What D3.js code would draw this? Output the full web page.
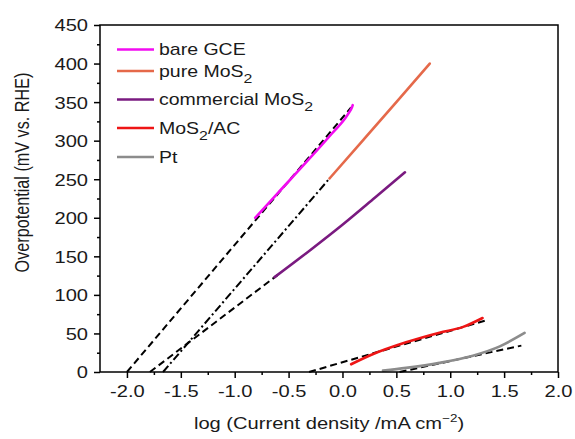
<!DOCTYPE html>
<html>
<head>
<meta charset="utf-8">
<script src="https://cdn.jsdelivr.net/npm/d3@7"></script>
<style>
  body { margin: 0; background: #fff; }
  svg { display: block; font-family: "Liberation Sans", Arial, sans-serif; }
  .axis path, .axis line { stroke: #000; stroke-width: 1.5; }
</style>
</head>
<body>
<svg width="575" height="439"></svg>
<script>
// tafel data: [log j, overpotential mV]
const bareGCE = [[-0.81, 200], [-0.6, 232], [-0.33, 273], [-0.1, 309], [0.05, 334], [0.09, 344], [0.095, 346]]
const pureMoS2 = [[-0.12, 251], [0.2, 302], [0.5, 350], [0.81, 400]]
const commercialMoS2 = [[-0.63, 123], [-0.3, 158], [0, 191], [0.3, 226], [0.58, 259]]
const mos2AC = [[0.08, 10], [0.28, 23], [0.59, 38.5], [0.9, 51], [1.12, 58.5], [1.3, 70]]
const pt = [[0.376, 1.8], [0.59, 5.3], [0.9, 11.8], [1.21, 21.2], [1.46, 33.3], [1.69, 50.6]]

// linear tafel fits (end points)
const fitGCE = [[-2.0, 0], [0.08, 343]]
const fitPure = [[-1.665, 0], [-0.12, 251]]
const fitCommercial = [[-1.787, 0], [-0.6, 126]]
const fitAC = [[-0.31, 0], [1.32, 66.5]]
const fitPt = [[0.53, 0], [1.66, 34.2]]

const xTicks = [-2.0, -1.5, -1.0, -0.5, 0.0, 0.5, 1.0, 1.5, 2.0]
const yTicks = [0, 50, 100, 150, 200, 250, 300, 350, 400, 450]

const series = [
  { name: ["bare GCE"], data: bareGCE, color: "#f20cf0" },
  { name: ["pure MoS", "2"], data: pureMoS2, color: "#e5694a" },
  { name: ["commercial MoS", "2"], data: commercialMoS2, color: "#7a1a80" },
  { name: ["MoS", "2", "/AC"], data: mos2AC, color: "#ee1515" },
  { name: ["Pt"], data: pt, color: "#8c8c8c" },
]

const fits = [
  { data: fitGCE, dash: "7,4" },
  { data: fitPure, dash: "8,3,2,3" },
  { data: fitCommercial, dash: "7,4" },
  { data: fitAC, dash: "7,4" },
  { data: fitPt, dash: "7,4" },
]

const margin = { top: 25, right: 17, bottom: 67, left: 100 }
const W = 575, H = 439
const stretch = 1.22 // the original picture is wider than tall

const svg = d3.select("svg")
const x = d3.scaleLinear().domain([-2.25, 2.0]).range([margin.left, W - margin.right])
const y = d3.scaleLinear().domain([0, 450]).range([H - margin.bottom, margin.top])

const line = d3.line().x(d => x(d[0])).y(d => y(d[1]))
const smooth = d3.line().x(d => x(d[0])).y(d => y(d[1])).curve(d3.curveMonotoneX)

// fits under data
svg.append("g").selectAll("path")
  .data(fits)
  .join("path")
  .attr("d", d => line(d.data))
  .attr("fill", "none")
  .attr("stroke", "#000")
  .attr("stroke-width", 2)
  .attr("stroke-dasharray", d => d.dash)

svg.append("g").selectAll("path")
  .data(series)
  .join("path")
  .attr("d", d => smooth(d.data))
  .attr("fill", "none")
  .attr("stroke", d => d.color)
  .attr("stroke-width", 2.6)
  .attr("stroke-linecap", "round")

// frame
svg.append("rect")
  .attr("x", x(-2.25)).attr("y", y(450))
  .attr("width", x(2.0) - x(-2.25)).attr("height", y(0) - y(450))
  .attr("fill", "none").attr("stroke", "#000").attr("stroke-width", 1.5)

// axes
const xMinor = d3.range(-1.75, 2.0, 0.5)
const yMinor = d3.range(25, 450, 50)

const gx = svg.append("g").attr("class", "axis")
  .attr("transform", `translate(0,${y(0)})`)
  .call(d3.axisBottom(x).tickValues(xTicks).tickSize(6))
gx.select(".domain").remove()
gx.selectAll("text")
  .attr("y", 13)
  .attr("transform", `scale(${stretch},1)`)
  .style("font-size", "16.5px")
  .style("font-family", "Liberation Sans, Arial, sans-serif")
  .attr("fill", "#1a1a1a")
  .text(d => d3.format(".1f")(d).replace("−", "-"))

svg.append("g").attr("class", "axis")
  .attr("transform", `translate(0,${y(0)})`)
  .call(d3.axisBottom(x).tickValues(xMinor).tickSize(3).tickFormat(""))
  .select(".domain").remove()

const gy = svg.append("g").attr("class", "axis")
  .attr("transform", `translate(${x(-2.25)},0)`)
  .call(d3.axisLeft(y).tickValues(yTicks).tickSize(6))
gy.select(".domain").remove()
gy.selectAll("text")
  .attr("x", -9.8)
  .attr("dy", "0.36em")
  .attr("transform", `scale(${stretch},1)`)
  .style("font-size", "16.5px")
  .style("font-family", "Liberation Sans, Arial, sans-serif")
  .attr("fill", "#1a1a1a")

svg.append("g").attr("class", "axis")
  .attr("transform", `translate(${x(-2.25)},0)`)
  .call(d3.axisLeft(y).tickValues(yMinor).tickSize(3).tickFormat(""))
  .select(".domain").remove()

// axis titles
const xt = svg.append("text")
  .attr("transform", `translate(${(x(-2.25) + x(2.0)) / 2},429) scale(${stretch},1)`)
  .attr("text-anchor", "middle")
  .attr("font-size", 16.5)
  .attr("fill", "#1a1a1a")
xt.append("tspan").text("log (Current density /mA cm")
xt.append("tspan").attr("font-size", 11).attr("dy", -7).text("−2")
xt.append("tspan").attr("dy", 7).text(")")

svg.append("text")
  .attr("transform", `translate(28.5,172.5) scale(${stretch},1) rotate(-90)`)
  .attr("text-anchor", "middle")
  .attr("font-size", 16.2)
  .attr("fill", "#1a1a1a")
  .text("Overpotential (mV vs. RHE)")

// legend
const legendY = [49.5, 71, 99.5, 128, 157]
const lg = svg.append("g").selectAll("g")
  .data(series)
  .join("g")
  .attr("transform", (d, i) => `translate(117,${legendY[i]})`)

lg.append("line")
  .attr("x1", 0).attr("x2", 37)
  .attr("stroke", d => d.color)
  .attr("stroke-width", 2.6)

const lt = lg.append("text")
  .attr("transform", `translate(42,5.5) scale(${stretch},1)`)
  .attr("font-size", 16)
  .attr("fill", "#1a1a1a")

lt.each(function(d) {
  const t = d3.select(this)
  t.append("tspan").text(d.name[0])
  if (d.name.length > 1) t.append("tspan").attr("font-size", 13).attr("dy", 6).text(d.name[1])
  if (d.name.length > 2) t.append("tspan").attr("dy", -6).text(d.name[2])
})
</script>
</body>
</html>
